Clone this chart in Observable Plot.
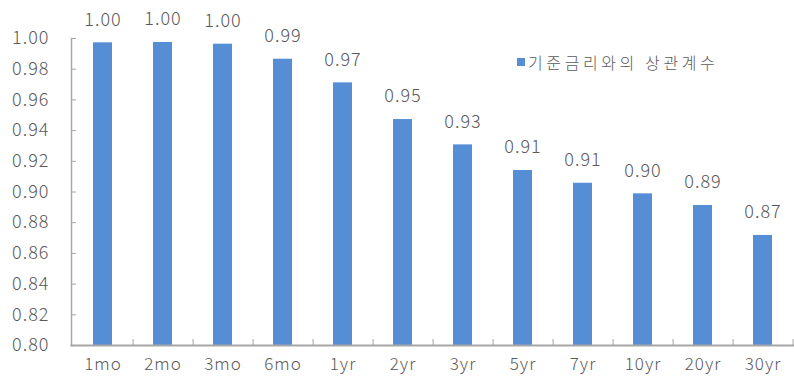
<!DOCTYPE html>
<html>
<head>
<meta charset="utf-8">
<script src="https://cdn.jsdelivr.net/npm/d3@7"></script>
<script src="https://cdn.jsdelivr.net/npm/@observablehq/plot@0.6"></script>
<style>
  html, body { margin: 0; padding: 0; background: #fff; overflow: hidden; }
  #wrap { position: relative; width: 794px; height: 376px; }
  #legend { position: absolute; left: 517px; top: 50px; font-family: "Noto Sans CJK KR", "Noto Sans", sans-serif; font-weight: 300; font-size: 16px; letter-spacing: 3.6px; color: #595959; display: flex; align-items: center; white-space: nowrap; }
  #legend .sw { width: 8px; height: 8px; background: #558ed5; margin-right: 3px; }
  svg text { font-weight: 300; letter-spacing: 1px; }
</style>
</head>
<body>
<div id="wrap"></div>
<script>
const categories = ["1mo","2mo","3mo","6mo","1yr","2yr","3yr","5yr","7yr","10yr","20yr","30yr"];
const values = [0.9972, 0.9974, 0.9963, 0.9865, 0.9711, 0.9472, 0.9307, 0.9140, 0.9057, 0.8988, 0.8912, 0.8717];
const yTicks = [0.80,0.82,0.84,0.86,0.88,0.90,0.92,0.94,0.96,0.98,1.00];
const seriesName = "기준금리와의 상관계수";

const data = categories.map((c, i) => ({cat: c, v: values[i]}));
const font = "'Noto Sans CJK KR', 'Noto Sans', sans-serif";
const textColor = "#595959";
const axisColor = "#a6a6a6";

const chart = Plot.plot({
  width: 794,
  height: 376,
  marginLeft: 71,
  marginRight: 0,
  marginTop: 38,
  marginBottom: 31,
  style: {fontFamily: font, fontSize: "18px", color: textColor, background: "#fff"},
  x: {domain: categories, paddingInner: 0.69, paddingOuter: 0.345, align: 0.5},
  y: {domain: [0.8, 1.0]},
  marks: [
    Plot.barY(data, {x: "cat", y1: 0.8, y2: "v", fill: "#558ed5"}),
    Plot.text(data, {x: "cat", y: "v", text: d => d.v.toFixed(2), dy: -23, lineAnchor: "middle", fill: textColor, fontSize: 18}),
    Plot.axisY({ticks: yTicks, tickFormat: d => d.toFixed(2), tickSize: -5, tickPadding: 27, stroke: axisColor, fill: textColor, fontSize: 18, label: null}),
    Plot.axisX({ticks: categories, tickSize: -6, text: null, dx: 30.1, stroke: axisColor, label: null}),
    Plot.axisX({ticks: categories, tickSize: 0, tickPadding: 12, fill: textColor, fontSize: 17, label: null}),
    Plot.frame({anchor: "left", stroke: axisColor, strokeWidth: 1.5}),
    Plot.frame({anchor: "bottom", stroke: axisColor, strokeWidth: 2})
  ]
});
document.getElementById("wrap").appendChild(chart);

const lg = document.createElement("div");
lg.id = "legend";
lg.innerHTML = `<span class="sw"></span><span></span>`;
lg.lastChild.textContent = seriesName;
document.getElementById("wrap").appendChild(lg);
</script>
</body>
</html>
